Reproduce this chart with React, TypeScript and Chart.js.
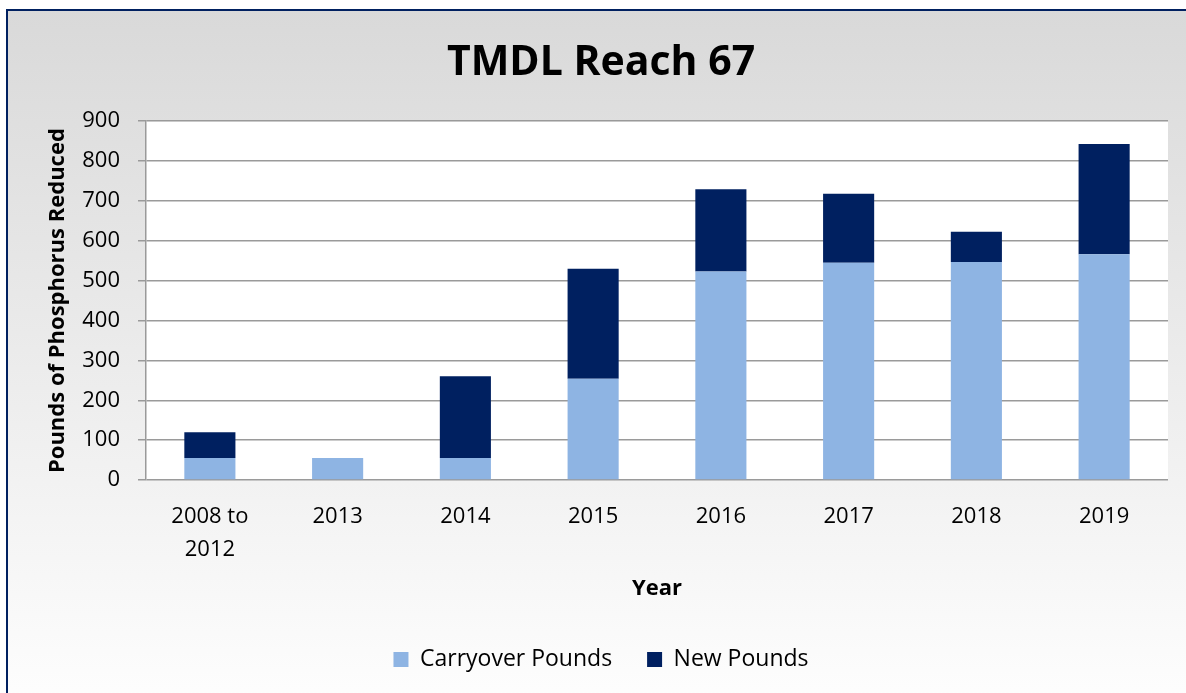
import React, { useEffect, useRef } from "react";
import { Chart, registerables } from "chart.js";

Chart.register(...registerables);

const categories: (string | string[])[] = [["2008 to", "2012"], "2013", "2014", "2015", "2016", "2017", "2018", "2019"];
const carryoverPounds = [55, 55, 55, 254, 523, 545, 547, 566];
const newPounds = [65, 0, 205, 276, 206, 173, 76, 277];
const yTicks = [0, 100, 200, 300, 400, 500, 600, 700, 800, 900];

const FONT = "'Open Sans', 'Noto Sans', sans-serif";

const plotBg = {
  id: "plotBg",
  beforeDraw(chart: any) {
    const { ctx, chartArea } = chart;
    ctx.save();
    ctx.fillStyle = "#ffffff";
    ctx.fillRect(chartArea.left, chartArea.top, chartArea.right - chartArea.left, chartArea.bottom - chartArea.top);
    ctx.restore();
  },
};

export default function App() {
  const ref = useRef<HTMLCanvasElement>(null);
  useEffect(() => {
    if (!ref.current) return;
    const chart = new Chart(ref.current, {
      type: "bar",
      data: {
        labels: categories,
        datasets: [
          { label: "Carryover Pounds", data: carryoverPounds, backgroundColor: "#8EB4E3", borderWidth: 0 },
          { label: "New Pounds", data: newPounds, backgroundColor: "#002060", borderWidth: 0 },
        ],
      },
      options: {
        responsive: false,
        animation: false,
        maintainAspectRatio: false,
        layout: { padding: { left: 34, right: 18, top: 0, bottom: 12 } },
        datasets: { bar: { categoryPercentage: 1, barPercentage: 0.4 } },
        plugins: {
          title: {
            display: true,
            text: "TMDL Reach 67",
            color: "#000",
            font: { family: FONT, size: 41, weight: "bold", lineHeight: 1.2 },
            padding: { top: 39, bottom: 33 },
          },
          legend: {
            display: true,
            position: "bottom",
            labels: {
              color: "#000",
              font: { family: FONT, size: 23 },
              boxWidth: 15,
              boxHeight: 15,
              padding: 35,
            },
          },
          tooltip: { enabled: false },
        },
        scales: {
          x: {
            stacked: true,
            grid: { display: false, drawTicks: false },
            border: { display: false },
            ticks: {
              color: "#000",
              font: { family: FONT, size: 22, lineHeight: 1.5 },
              padding: 20,
              maxRotation: 0,
              autoSkip: false,
            },
            title: {
              display: true,
              text: "Year",
              color: "#000",
              font: { family: FONT, size: 22, weight: "bold", lineHeight: 1.2 },
              padding: { top: 0, bottom: 11 },
            },
            afterFit: (s: any) => {
              s.height = 133;
            },
          },
          y: {
            stacked: true,
            min: 0,
            max: 900,
            afterBuildTicks: (s: any) => {
              s.ticks = yTicks.map((v) => ({ value: v }));
            },
            grid: { color: "#9a9a9a", lineWidth: 1.5, drawTicks: true, tickLength: 8 },
            border: { display: true, color: "#9a9a9a", width: 1.5 },
            ticks: {
              color: "#000",
              font: { family: FONT, size: 22 },
              padding: 18,
            },
            title: {
              display: true,
              text: "Pounds of Phosphorus Reduced",
              color: "#000",
              font: { family: FONT, size: 22, weight: "bold", lineHeight: 1.2 },
              padding: { top: 11, bottom: 0 },
            },
            afterFit: (s: any) => {
              s.width = 112;
            },
          },
        },
      },
      plugins: [plotBg],
    });
    return () => chart.destroy();
  }, []);

  return (
    <div>
      <div
        style={{
          position: "fixed",
          left: 6,
          top: 9,
          width: 1200,
          height: 720,
          border: "2px solid #002060",
          background: "linear-gradient(#d9d9d9 0%, #ffffff 100%)",
          boxSizing: "border-box",
        }}
      />
      <canvas
        ref={ref}
        width={1186}
        height={693}
        style={{ position: "fixed", left: 0, top: 0, width: 1186, height: 693 }}
      />
    </div>
  );
}
